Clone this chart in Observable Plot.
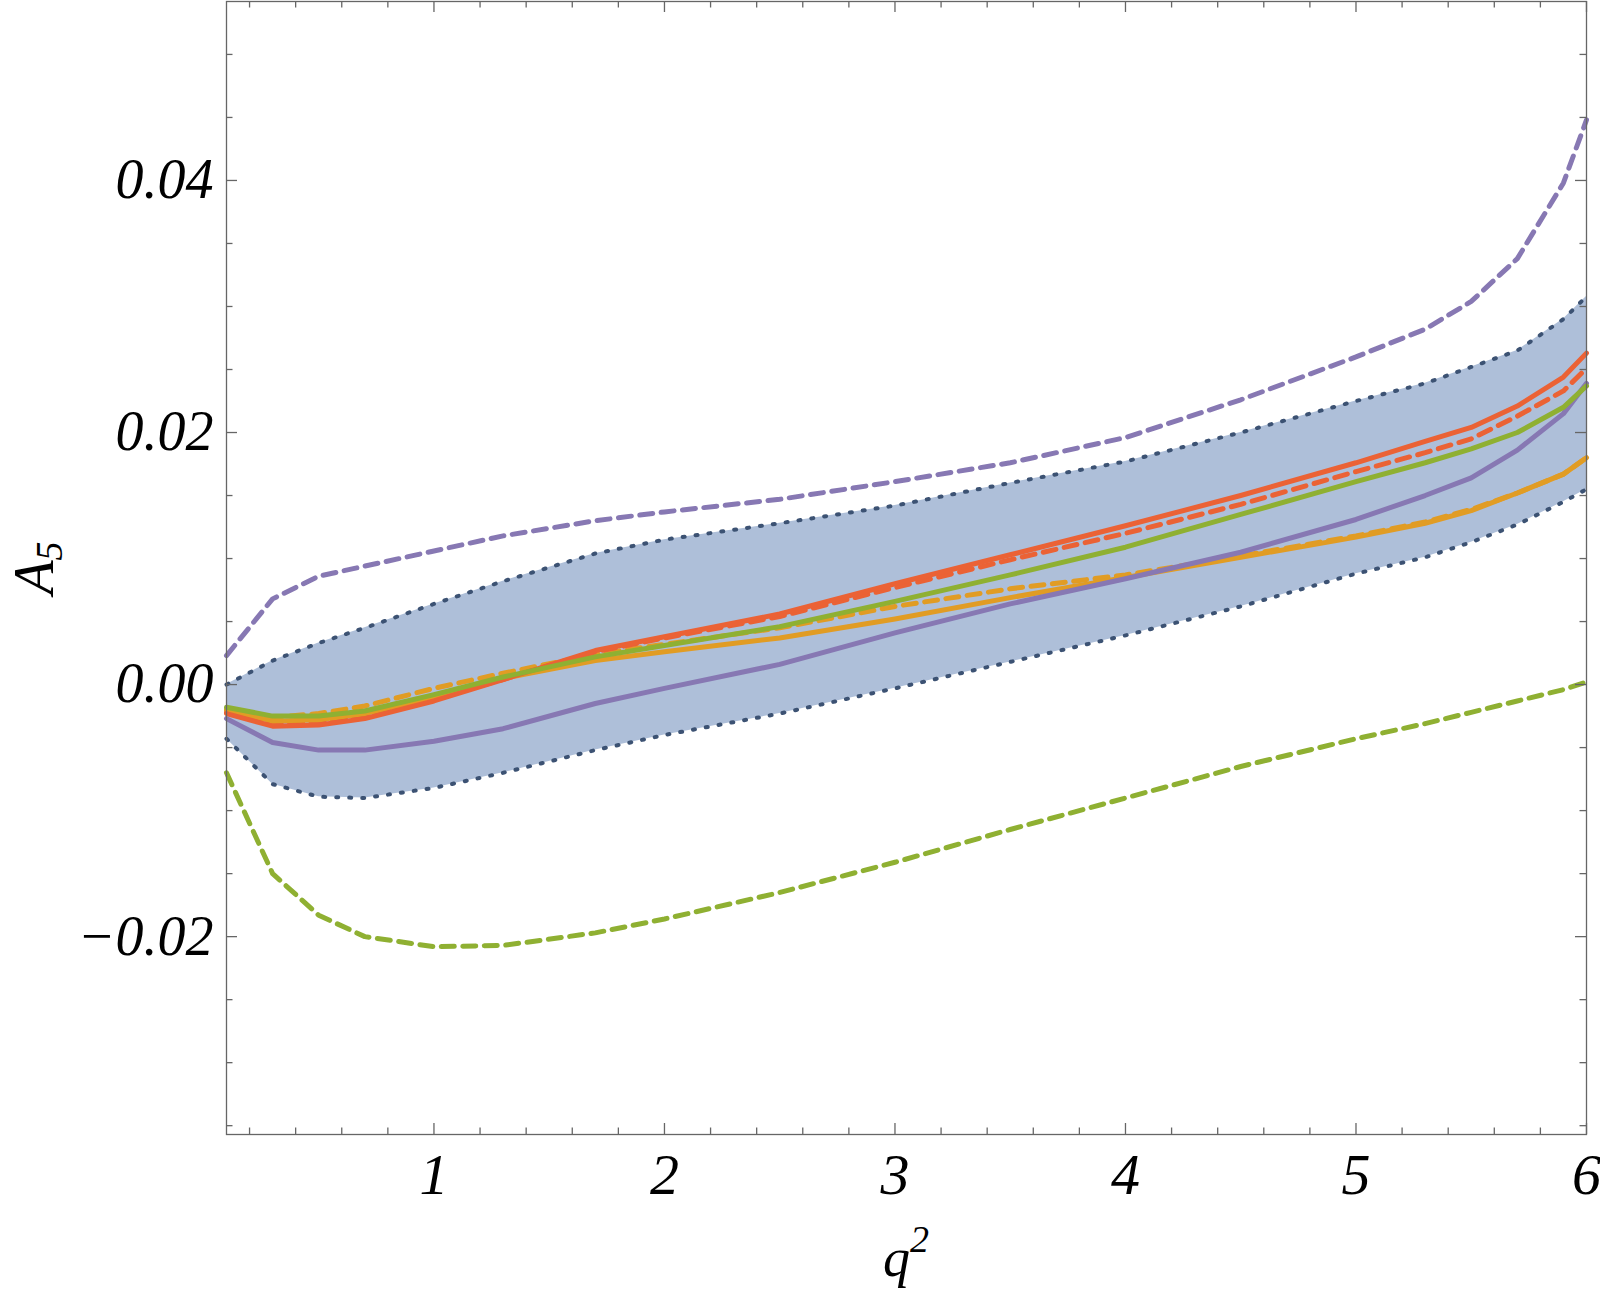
<!DOCTYPE html>
<html>
<head>
<meta charset="utf-8">
<script src="https://cdn.jsdelivr.net/npm/d3@7"></script>
<script src="https://cdn.jsdelivr.net/npm/@observablehq/plot@0.6"></script>
<style>
html, body { margin: 0; padding: 0; background: #fff; }
#chart svg { display: block; }
</style>
</head>
<body>
<div id="chart"></div>
<script>
// ---- data ----
const q2 = [0.1, 0.3, 0.5, 0.7, 1.0, 1.3, 1.7, 2.0, 2.5, 3.0, 3.5, 4.0, 4.5, 5.0, 5.3, 5.5, 5.7, 5.9, 6.0];

const bandUpper = [0.0000, 0.0019, 0.0033, 0.0045, 0.0064, 0.0082, 0.0104, 0.0115, 0.0128, 0.0142, 0.0160, 0.0177, 0.0200, 0.0225, 0.0239, 0.0252, 0.0265, 0.0290, 0.0308];
const bandLower = [-0.0043, -0.0079, -0.0089, -0.0090, -0.0082, -0.0070, -0.0052, -0.0040, -0.0023, -0.0003, 0.0018, 0.0039, 0.0062, 0.0088, 0.0101, 0.0113, 0.0127, 0.0145, 0.0155];

const purpleDashed = [0.0023, 0.0068, 0.0086, 0.0094, 0.0106, 0.0118, 0.0130, 0.0137, 0.0147, 0.0161, 0.0176, 0.0196, 0.0226, 0.0260, 0.0282, 0.0304, 0.0338, 0.0398, 0.0448];
const greenDashed  = [-0.0070, -0.0150, -0.0183, -0.0200, -0.0208, -0.0207, -0.0197, -0.0186, -0.0165, -0.0141, -0.0115, -0.0090, -0.0065, -0.0043, -0.0031, -0.0022, -0.0013, -0.0004, 0.0002];
const orangeDashed = [-0.0020, -0.0026, -0.0023, -0.0017, -0.0003, 0.0009, 0.0024, 0.0032, 0.0045, 0.0062, 0.0076, 0.0087, 0.0102, 0.0118, 0.0129, 0.0139, 0.0152, 0.0167, 0.0180];
const redDashed    = [-0.0022, -0.0031, -0.0030, -0.0025, -0.0011, 0.0004, 0.0026, 0.0037, 0.0054, 0.0077, 0.0099, 0.0120, 0.0143, 0.0169, 0.0184, 0.0195, 0.0213, 0.0233, 0.0251];

const orangeSolid = [-0.0020, -0.0029, -0.0028, -0.0023, -0.0010, 0.0005, 0.0019, 0.0026, 0.0037, 0.0052, 0.0069, 0.0085, 0.0101, 0.0117, 0.0128, 0.0138, 0.0152, 0.0167, 0.0180];
const redSolid    = [-0.0023, -0.0033, -0.0032, -0.0027, -0.0013, 0.0004, 0.0027, 0.0038, 0.0056, 0.0080, 0.0103, 0.0126, 0.0150, 0.0176, 0.0193, 0.0204, 0.0221, 0.0244, 0.0263];
const purpleSolid = [-0.0027, -0.0046, -0.0052, -0.0052, -0.0045, -0.0035, -0.0015, -0.0003, 0.0016, 0.0041, 0.0064, 0.0084, 0.0105, 0.0131, 0.0150, 0.0164, 0.0186, 0.0215, 0.0239];
const greenSolid  = [-0.0018, -0.0025, -0.0025, -0.0021, -0.0008, 0.0006, 0.0022, 0.0031, 0.0046, 0.0066, 0.0087, 0.0109, 0.0135, 0.0161, 0.0176, 0.0187, 0.0200, 0.0220, 0.0237];

// ticks
const xMajor = [1, 2, 3, 4, 5, 6];
const xMinor = [0.2, 0.4, 0.6, 0.8, 1.2, 1.4, 1.6, 1.8, 2.2, 2.4, 2.6, 2.8, 3.2, 3.4, 3.6, 3.8, 4.2, 4.4, 4.6, 4.8, 5.2, 5.4, 5.6, 5.8];
const yMajor = [-0.02, 0.00, 0.02, 0.04];
const yMinor = [-0.035, -0.03, -0.025, -0.015, -0.01, -0.005, 0.005, 0.01, 0.015, 0.025, 0.03, 0.035, 0.045, 0.05];

// ---- styles ----
const C = { purple: "#8778b3", green: "#8fb032", orange: "#e19c24", red: "#eb6235", band: "#aebfd9", edge: "#3c5273", axis: "#666666" };
const W = 1600, H = 1291, mL = 226, mR = 14, mT = 1, mB = 157;
const fw = W - mL - mR, fh = H - mT - mB;
const LW = 5, DASH = "13,8.5";
const CURVE = "linear";
const FONT = "'Liberation Serif', 'Times New Roman', Times, serif";

const rows = ys => q2.map((x, i) => ({ x, y: ys[i] }));
const bandRows = q2.map((x, i) => ({ x, lo: bandLower[i], hi: bandUpper[i] }));

const solid = (ys, color) => Plot.line(rows(ys), { x: "x", y: "y", curve: CURVE, stroke: color, strokeWidth: LW, strokeLinejoin: "round" });
const dashed = (ys, color) => Plot.line(rows(ys), { x: "x", y: "y", curve: CURVE, stroke: color, strokeWidth: LW, strokeDasharray: DASH });

const tickStyle = { stroke: C.axis, strokeWidth: 1.3 };

const plot = Plot.plot({
  width: W, height: H,
  marginLeft: mL, marginRight: mR, marginTop: mT, marginBottom: mB,
  x: { domain: [0.1, 6], label: null },
  y: { domain: [-0.0357, 0.0542], label: null },
  style: { fontFamily: FONT, background: "#fff", color: "#000" },
  marks: [
    Plot.areaY(bandRows, { x: "x", y1: "lo", y2: "hi", curve: CURVE, fill: C.band }),
    Plot.line(bandRows, { x: "x", y: "hi", curve: CURVE, stroke: C.edge, strokeWidth: 4, strokeDasharray: "2,11" }),
    Plot.line(bandRows, { x: "x", y: "lo", curve: CURVE, stroke: C.edge, strokeWidth: 4, strokeDasharray: "2,11" }),
    dashed(purpleDashed, C.purple),
    dashed(greenDashed, C.green),
    dashed(orangeDashed, C.orange),
    dashed(redDashed, C.red),
    solid(orangeSolid, C.orange),
    solid(redSolid, C.red),
    solid(purpleSolid, C.purple),
    solid(greenSolid, C.green),
    Plot.frame({ stroke: C.axis, strokeWidth: 1.3 }),
    // inward frame ticks on all four sides
    Plot.tickX(xMajor, { x: d => d, ...tickStyle, insetTop: fh - 11 }),
    Plot.tickX(xMinor, { x: d => d, ...tickStyle, insetTop: fh - 6.5 }),
    Plot.tickX(xMajor, { x: d => d, ...tickStyle, insetBottom: fh - 11 }),
    Plot.tickX(xMinor, { x: d => d, ...tickStyle, insetBottom: fh - 6.5 }),
    Plot.tickY(yMajor, { y: d => d, ...tickStyle, insetRight: fw - 11 }),
    Plot.tickY(yMinor, { y: d => d, ...tickStyle, insetRight: fw - 6.5 }),
    Plot.tickY(yMajor, { y: d => d, ...tickStyle, insetLeft: fw - 11 }),
    Plot.tickY(yMinor, { y: d => d, ...tickStyle, insetLeft: fw - 6.5 }),
    Plot.axisX({ ticks: xMajor, tickSize: 0, tickPadding: 18, fontSize: 58, fontStyle: "italic", fontFamily: FONT, tickFormat: d => String(d), label: null }),
    Plot.axisY({ ticks: yMajor, tickSize: 0, tickPadding: 13, fontSize: 56, fontStyle: "italic", fontFamily: FONT, tickFormat: d => d3.format(".2f")(d), label: null })
  ]
});

// axis titles with sub/superscripts
const svg = d3.select(plot);
const yt = svg.append("text")
  .attr("transform", "translate(53,568) rotate(-90)")
  .attr("text-anchor", "middle")
  .attr("font-family", FONT)
  .attr("font-style", "italic")
  .attr("fill", "#000");
yt.append("tspan").attr("font-size", 56).text("A");
yt.append("tspan").attr("font-size", 38).attr("dy", 9).text("5");

const xt = svg.append("text")
  .attr("x", mL + fw / 2)
  .attr("y", 1276)
  .attr("text-anchor", "middle")
  .attr("font-family", FONT)
  .attr("font-style", "italic")
  .attr("fill", "#000");
xt.append("tspan").attr("font-size", 54).text("q");
xt.append("tspan").attr("font-size", 38).attr("dy", -24).text("2");

document.getElementById("chart").appendChild(plot);
</script>
</body>
</html>
